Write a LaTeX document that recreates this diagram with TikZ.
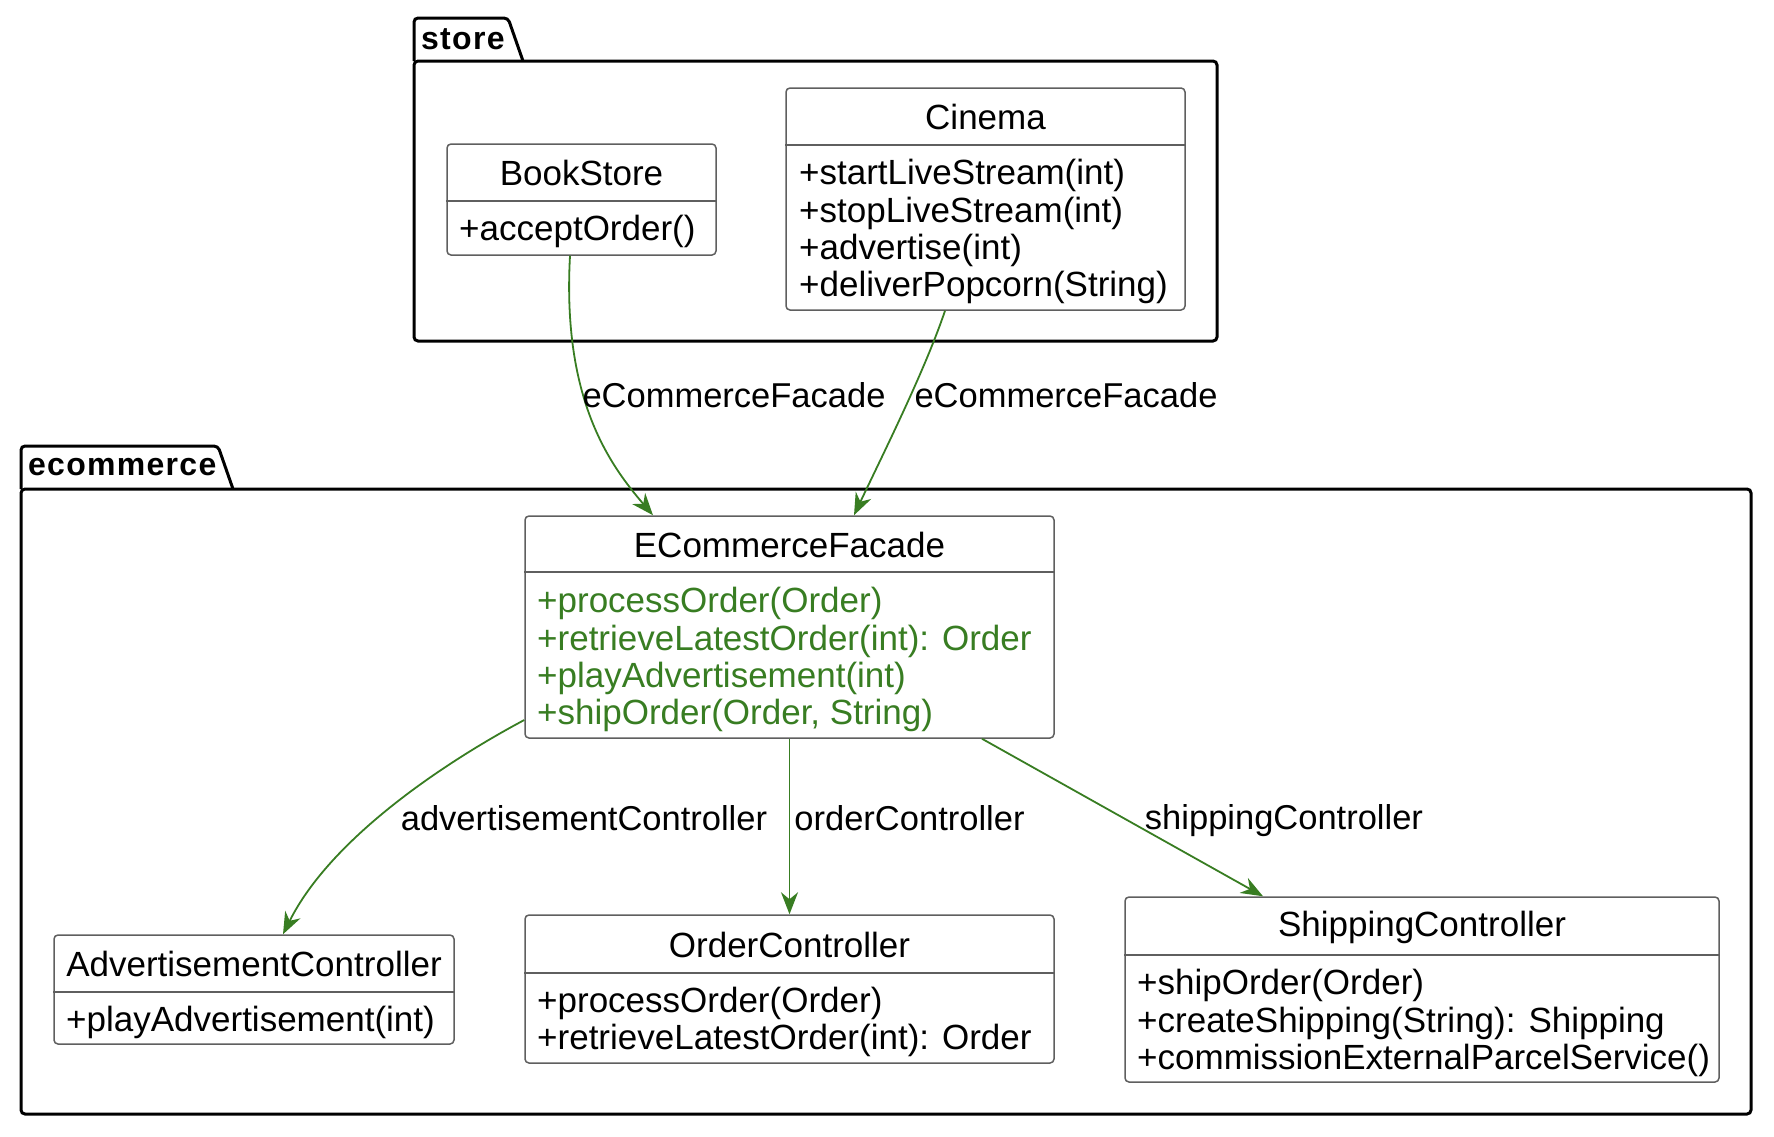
\documentclass[tikz,border=0pt]{standalone}
\usepackage{fontspec}
\setmainfont{Liberation Sans}
\usetikzlibrary{arrows.meta}
\definecolor{arrgreen}{RGB}{56,125,34}
\definecolor{boxgray}{RGB}{95,95,95}
\tikzset{
  pkgline/.style={draw=black, line width=3pt, rounded corners=4pt},
  clsbox/.style={draw=boxgray, line width=1.5pt, rounded corners=4pt, fill=white, inner sep=0pt},
  sepline/.style={draw=boxgray, line width=1.5pt},
  cname/.style={inner sep=0pt, font=\fontsize{35}{40}\selectfont, text=black},
  meth/.style={inner sep=0pt, anchor=west, font=\fontsize{35}{40}\selectfont, text=black},
  gmeth/.style={meth, text=arrgreen},
  pkgname/.style={inner sep=0pt, anchor=west, font=\fontsize{32}{36}\selectfont\bfseries\addfontfeatures{LetterSpace=4}},
  elabel/.style={inner sep=0pt, font=\fontsize{34.5}{40}\selectfont, text=black},
  conn/.style={draw=arrgreen, line width=1.8pt, -{Stealth[length=22pt, width=17pt, inset=7pt]}}
}
\begin{document}
\begin{tikzpicture}[x=1pt, y=-1pt]
\useasboundingbox (0,0) rectangle (1774,1136);

% ---------- store package ----------
\draw[pkgline] (414,61) -- (414,18) -- (508,18) -- (523,61);
\draw[pkgline] (414,61) rectangle (1217,341);
\node[pkgname] (storelbl) at (421,39) {store};

% ---------- ecommerce package ----------
\draw[pkgline] (21,489) -- (21,446) -- (218,446) -- (233,489);
\draw[pkgline] (21,489) rectangle (1751,1114);
\node[pkgname] (ecomlbl) at (28,467) {ecommerce};

% ---------- BookStore ----------
\node[clsbox, minimum width=269pt, minimum height=111pt] (book) at (581.5,199.5) {};
\draw[sepline] (book.west |- 0,201) -- (book.east |- 0,201);
\node[cname] (bookt) at (581.5,173) {BookStore};
\node[meth] (bookm1) at (459,231.5) {+acceptOrder()};

% ---------- Cinema ----------
\node[clsbox, minimum width=399pt, minimum height=222pt] (cin) at (985.5,199) {};
\draw[sepline] (cin.west |- 0,145) -- (cin.east |- 0,145);
\node[cname] (cint) at (985.5,117) {Cinema};
\node[meth] (cinm1) at (799,175) {+startLiveStream(int)};
\node[meth] (cinm2) at (799,213) {+stopLiveStream(int)};
\node[meth] (cinm3) at (799,250) {+advertise(int)};
\node[meth] (cinm4) at (799,287) {+deliverPopcorn(String)};

% ---------- ECommerceFacade ----------
\node[clsbox, minimum width=529pt, minimum height=222pt] (fac) at (789.5,627) {};
\draw[sepline] (fac.west |- 0,572) -- (fac.east |- 0,572);
\node[cname] (fact) at (789.5,545) {ECommerceFacade};
\node[gmeth] (facm1) at (537,603) {+processOrder(Order)};
\node[gmeth] (facm2) at (537,641) {+retrieveLatestOrder(int): Order};
\node[gmeth] (facm3) at (537,678) {+playAdvertisement(int)};
\node[gmeth] (facm4) at (537,715) {+shipOrder(Order, String)};

% ---------- AdvertisementController ----------
\node[clsbox, minimum width=400pt, minimum height=109pt] (adv) at (254,989.5) {};
\draw[sepline] (adv.west |- 0,992) -- (adv.east |- 0,992);
\node[cname] (advt) at (254,964) {AdvertisementController};
\node[meth] (advm1) at (66,1022.5) {+playAdvertisement(int)};

% ---------- OrderController ----------
\node[clsbox, minimum width=529pt, minimum height=148pt] (ord) at (789.5,989) {};
\draw[sepline] (ord.west |- 0,973) -- (ord.east |- 0,973);
\node[cname] (ordt) at (789.5,945) {OrderController};
\node[meth] (ordm1) at (537,1003.5) {+processOrder(Order)};
\node[meth] (ordm2) at (537,1040.5) {+retrieveLatestOrder(int): Order};

% ---------- ShippingController ----------
\node[clsbox, minimum width=594pt, minimum height=185pt] (shp) at (1422,989.5) {};
\draw[sepline] (shp.west |- 0,955) -- (shp.east |- 0,955);
\node[cname] (shpt) at (1422,927) {ShippingController};
\node[meth] (shpm1) at (1137,985) {+shipOrder(Order)};
\node[meth] (shpm2) at (1137,1023) {+createShipping(String): Shipping};
\node[meth] (shpm3) at (1137,1060) {+commissionExternalParcelService()};

% ---------- connectors ----------
\coordinate (bookout) at ([xshift=-11.5pt]book.south);
\coordinate (facin1) at ([xshift=-136.5pt]fac.north);
\coordinate (cinout) at ([xshift=-40.5pt]cin.south);
\coordinate (facin2) at ([xshift=64.5pt]fac.north);
\coordinate (facleft) at ([yshift=-93pt]fac.west);
\coordinate (advin) at ([xshift=29pt]adv.north);
\coordinate (facshp) at ([xshift=192.5pt]fac.south);
\coordinate (shpin) at ([xshift=-159pt]shp.north);

\draw[conn] (bookout) .. controls (562,400) and (610,465) .. (facin1);
\draw[conn] (cinout) .. controls (925,370) and (885,450) .. (facin2);
\draw[conn] (facleft) .. controls (440,765) and (330,840) .. (advin);
\draw[conn] (fac.south) -- (ord.north);
\draw[conn] (facshp) -- (shpin);

% ---------- connector labels ----------
\node[elabel] (l1) at (734,395) {eCommerceFacade};
\node[elabel] (l2) at (1066,395) {eCommerceFacade};
\node[elabel] (l3) at (584,818) {advertisementController};
\node[elabel] (l4) at (909.5,818) {orderController};
\node[elabel] (l5) at (1284,821) {shippingController};
\end{tikzpicture}
\end{document}
